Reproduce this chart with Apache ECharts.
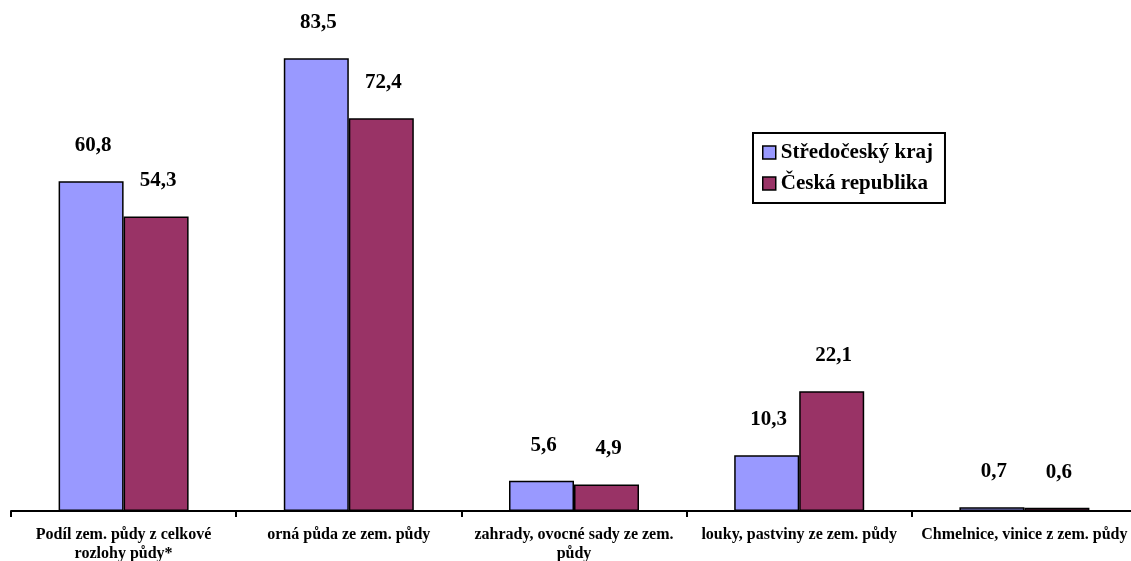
<!DOCTYPE html>
<html>
<head>
<meta charset="utf-8">
<script src="https://cdn.jsdelivr.net/npm/echarts@6/dist/echarts.min.js"></script>
<style>
  html, body { margin: 0; padding: 0; background: #fff; }
  #chart { width: 1131px; height: 561px; }
</style>
</head>
<body>
<div id="chart"></div>
<script>
// Land use shares (%) — Central Bohemian Region vs. Czech Republic
const categories = [
  'Podíl zem. půdy z celkové\nrozlohy půdy*',
  'orná půda ze zem. půdy',
  'zahrady, ovocné sady ze zem.\npůdy',
  'louky, pastviny ze zem. půdy',
  'Chmelnice, vinice z zem. půdy'
];
const stredocesky = [60.8, 83.5, 5.6, 10.3, 0.7];
const ceskaRepublika = [54.3, 72.4, 4.9, 22.1, 0.6];
const seriesNames = ['Středočeský kraj', 'Česká republika'];

const FONT = '"Liberation Serif", "Times New Roman", serif';
const fmt = p => String(p.value).replace('.', ',');

const labelStyle = {
  show: true,
  position: 'top',
  distance: 25,
  offset: [2, 0],
  formatter: fmt,
  fontFamily: FONT,
  fontWeight: 'bold',
  fontSize: 21,
  color: '#000'
};

const chart = echarts.init(document.getElementById('chart'), null, { renderer: 'canvas' });
chart.setOption({
  animation: false,
  backgroundColor: '#fff',
  grid: {
    left: 11, top: 24, width: 1126, height: 487,
    containLabel: false,
    outerBoundsMode: 'none'
  },
  legend: {
    orient: 'vertical',
    left: 753,
    top: 133,
    padding: [9, 12, 9, 9],
    icon: 'rect',
    itemWidth: 13,
    itemHeight: 13,
    itemGap: 10,
    borderColor: '#000',
    borderWidth: 2,
    backgroundColor: '#fff',
    textStyle: { fontFamily: FONT, fontWeight: 'bold', fontSize: 21, color: '#000' },
    data: seriesNames.map(n => ({ name: n, itemStyle: { borderColor: '#000', borderWidth: 1.5 } }))
  },
  xAxis: {
    type: 'category',
    data: categories,
    axisLine: { lineStyle: { color: '#000', width: 2 } },
    axisTick: { show: true, length: 6, lineStyle: { color: '#000', width: 2 } },
    axisLabel: {
      interval: 0,
      margin: 14,
      fontFamily: FONT,
      fontWeight: 'bold',
      fontSize: 16,
      lineHeight: 19,
      color: '#000'
    }
  },
  yAxis: {
    type: 'value',
    min: 0,
    max: 89.8,
    show: false,
    splitLine: { show: false }
  },
  series: [
    {
      name: seriesNames[0],
      type: 'bar',
      data: stredocesky,
      barWidth: 65,
      barGap: '0%',
      itemStyle: { color: '#9999FF', borderColor: '#000', borderWidth: 1.5 },
      label: labelStyle
    },
    {
      name: seriesNames[1],
      type: 'bar',
      data: ceskaRepublika,
      barWidth: 65,
      barGap: '0%',
      itemStyle: { color: '#993366', borderColor: '#000', borderWidth: 1.5 },
      label: labelStyle
    }
  ]
});
</script>
</body>
</html>
